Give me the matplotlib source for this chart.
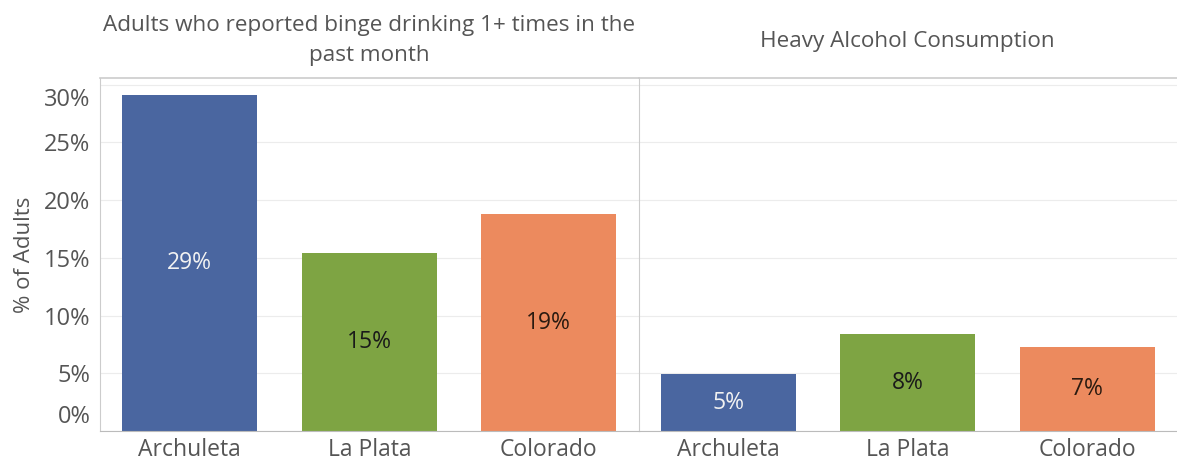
import matplotlib.pyplot as plt
import matplotlib.transforms as mtransforms

# data
counties = ['Archuleta', 'La Plata', 'Colorado']
binge_pct = [29.1, 15.4, 18.8]
heavy_pct = [4.9, 8.4, 7.3]
bar_colors = ['#4a66a0', '#7ea443', '#ec8a5e']
label_colors = ['#f2f2f2', '#1a1a1a', '#2a1a10']
titles = ['Adults who reported binge drinking 1+ times in the\npast month',
          'Heavy Alcohol Consumption']
yticks = [0, 5, 10, 15, 20, 25, 30]

plt.rcParams['font.family'] = ['Open Sans', 'DejaVu Sans']
grey = '#555555'

fig, axes = plt.subplots(1, 2, figsize=(11.77, 4.66), dpi=100, sharey=True)
fig.subplots_adjust(left=0.085, right=1.0, top=0.833, bottom=0.075, wspace=0)

for ax, vals, title in zip(axes, [binge_pct, heavy_pct], titles):
    bars = ax.bar(counties, vals, width=0.75, color=bar_colors, zorder=2)
    for b, v, c in zip(bars, vals, label_colors):
        ax.text(b.get_x() + b.get_width() / 2, v / 2, f'{round(v):.0f}%',
                ha='center', va='center', fontsize=16.5, color=c, zorder=3)
    ax.set_xlim(-0.5, 2.5)
    ax.set_ylim(0, 30.6)
    ax.set_yticks(yticks)
    ax.grid(axis='y', color='#ececec', linewidth=0.8, zorder=0)
    ax.tick_params(axis='both', length=0, labelcolor=grey)
    ax.tick_params(axis='x', pad=5, labelsize=16.5)
    ax.tick_params(axis='y', pad=7, labelsize=17)
    if '\n' in title:
        ax.set_title(title, fontsize=16.2, color=grey, pad=12, linespacing=1.6)
    else:
        ax.set_title(title, fontsize=16.2, color=grey, pad=22)
    for s in ['top', 'right']:
        ax.spines[s].set_visible(False)
    ax.spines['bottom'].set_color('#bbbbbb')
    ax.spines['left'].set_color('#cccccc')

axes[0].set_yticklabels([f'{t}%' for t in yticks])
axes[0].set_ylabel('% of Adults', fontsize=16, color=grey, labelpad=6)

# Tableau nudges the first and last tick labels inside the pane
ylabels = axes[0].get_yticklabels()
ylabels[0].set_transform(ylabels[0].get_transform() +
                         mtransforms.ScaledTranslation(0, 17 / 100, fig.dpi_scale_trans))
ylabels[-1].set_transform(ylabels[-1].get_transform() +
                          mtransforms.ScaledTranslation(0, -12 / 100, fig.dpi_scale_trans))

# top border across both panes
for ax in axes:
    ax.axhline(30.6, color='#cccccc', linewidth=1.2, clip_on=False, zorder=4)

fig.savefig('out.png', dpi=100, facecolor='white')
